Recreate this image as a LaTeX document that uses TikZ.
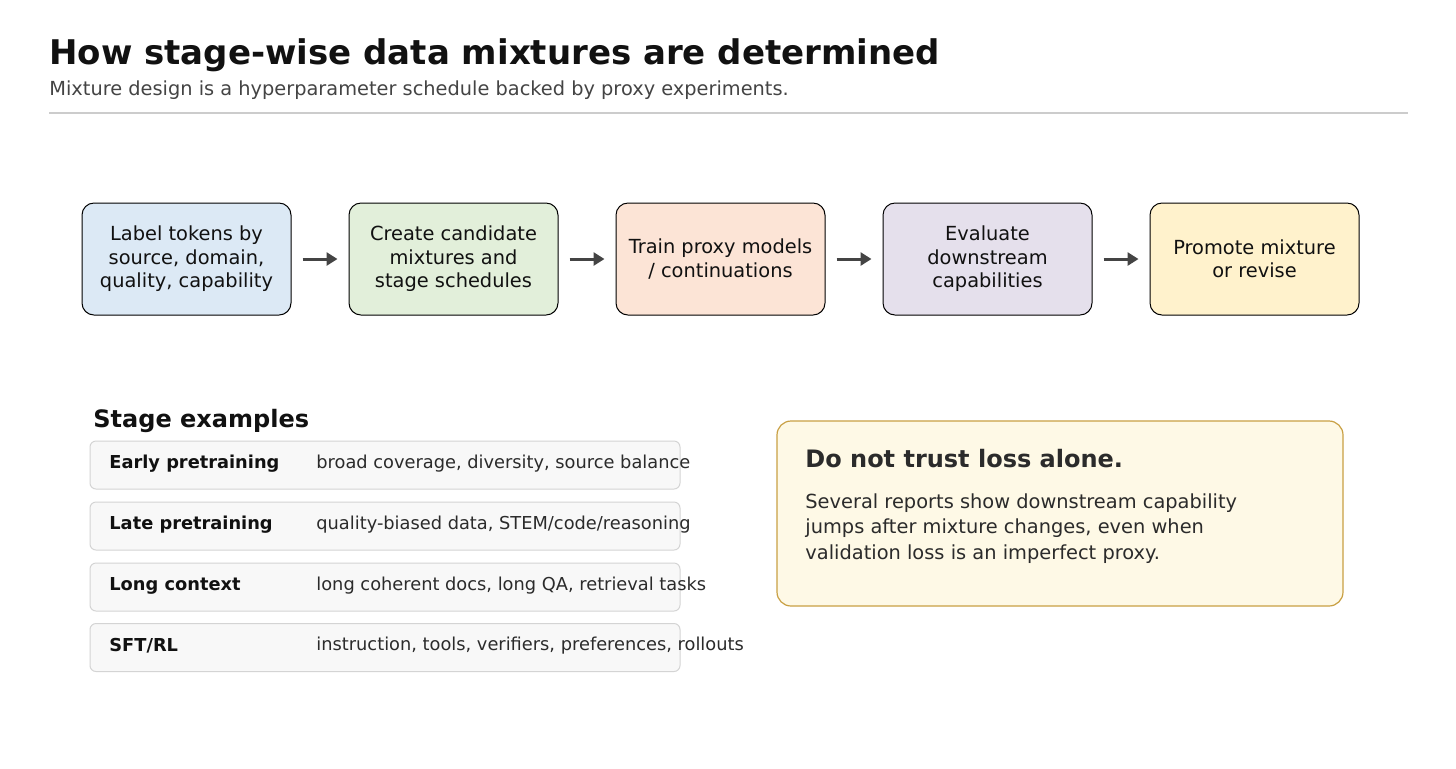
\documentclass[tikz,border=0pt]{standalone}
\usepackage{fontspec}
\setmainfont{DejaVu Sans}
\usetikzlibrary{arrows.meta}
\definecolor{titlec}{HTML}{111111}
\definecolor{subc}{HTML}{444444}
\definecolor{rulec}{HTML}{CCCCCC}
\definecolor{fa}{HTML}{DCE9F5}
\definecolor{fb}{HTML}{E2EFDA}
\definecolor{fc}{HTML}{FCE4D6}
\definecolor{fd}{HTML}{E5E0EC}
\definecolor{fe}{HTML}{FFF2CC}
\definecolor{arrc}{HTML}{444444}
\definecolor{rowfill}{HTML}{F8F8F8}
\definecolor{rowdraw}{HTML}{D4D4D4}
\definecolor{callfill}{HTML}{FEF9E6}
\definecolor{calldraw}{HTML}{C9A044}
\definecolor{calltext}{HTML}{2B2B2B}
\tikzset{
  x=0.5pt, y=-0.5pt,
  flowbox/.style={draw=black, line width=0.5pt, rounded corners=6pt, minimum width=104.5pt, minimum height=56pt, align=center, text=titlec, font=\fontsize{9.7}{11.75}\selectfont, inner sep=0pt},
  flowarr/.style={draw=arrc, line width=1.5pt, -{Triangle[length=5.5pt,width=6.5pt]}, shorten <=5.5pt, shorten >=5.5pt},
  rowbox/.style={draw=rowdraw, fill=rowfill, line width=0.5pt, rounded corners=3pt, minimum width=295pt, minimum height=24pt, inner sep=0pt},
  rowlabel/.style={anchor=west, inner sep=0pt, font=\fontsize{8.9}{10.7}\selectfont\bfseries, text=titlec},
  rowtext/.style={anchor=west, inner sep=0pt, font=\fontsize{8.9}{10.7}\selectfont, text=calltext},
  bodytext/.style={anchor=base west, inner sep=0pt, font=\fontsize{9.7}{12.75}\selectfont, text=calltext},
}
\begin{document}
\begin{tikzpicture}
\useasboundingbox[fill=white] (0,0) rectangle (1456,768);
% title
\node[anchor=base west, inner sep=0pt, font=\fontsize{17}{20}\selectfont\bfseries, text=titlec] (title) at (49,64) {How stage-wise data mixtures are determined};
\node[anchor=base west, inner sep=0pt, font=\fontsize{9.68}{11.4}\selectfont, text=subc] (sub) at (49,95) {Mixture design is a hyperparameter schedule backed by proxy experiments.};
\draw[rulec, line width=1pt] (49,113) -- (1408,113);
% flow
\node[flowbox, fill=fa] (b1) at (186.5,259) {Label tokens by\\source, domain,\\quality, capability};
\node[flowbox, fill=fb] (b2) at (453.5,259) {Create candidate\\mixtures and\\stage schedules};
\node[flowbox, fill=fc] (b3) at (720.5,259) {Train proxy models\\/ continuations};
\node[flowbox, fill=fd] (b4) at (987.5,259) {Evaluate\\downstream\\capabilities};
\node[flowbox, fill=fe] (b5) at (1254.5,259) {Promote mixture\\or revise};
\draw[flowarr] (b1) -- (b2);
\draw[flowarr] (b2) -- (b3);
\draw[flowarr] (b3) -- (b4);
\draw[flowarr] (b4) -- (b5);
% stage examples
\node[anchor=base west, inner sep=0pt, font=\fontsize{12}{14}\selectfont\bfseries, text=titlec] (sh) at (93,427) {Stage examples};
\node[rowbox] (r1) at (385,465) {};
\node[rowbox] (r2) at (385,526) {};
\node[rowbox] (r3) at (385,587) {};
\node[rowbox] (r4) at (385,647.5) {};
\node[rowlabel] (l1) at (109,464) {Early pretraining};
\node[rowtext] (t1) at (316,464) {broad coverage, diversity, source balance};
\node[rowlabel] (l2) at (109,525) {Late pretraining};
\node[rowtext] (t2) at (316,525) {quality-biased data, STEM/code/reasoning};
\node[rowlabel] (l3) at (109,586) {Long context};
\node[rowtext] (t3) at (316,586) {long coherent docs, long QA, retrieval tasks};
\node[rowlabel] (l4) at (109,646) {SFT/RL};
\node[rowtext] (t4) at (316,646) {instruction, tools, verifiers, preferences, rollouts};
% callout
\draw[calldraw, fill=callfill, line width=0.6pt, rounded corners=7pt] (777,421) rectangle (1343,606);
\node[anchor=base west, inner sep=0pt, font=\fontsize{12}{14}\selectfont\bfseries, text=calltext] (ct) at (805,467) {Do not trust loss alone.};
\node[bodytext] (c1) at (805,508) {Several reports show downstream capability};
\node[bodytext] (c2) at (805,533.5) {jumps after mixture changes, even when};
\node[bodytext] (c3) at (805,559) {validation loss is an imperfect proxy.};
\end{tikzpicture}
\end{document}
